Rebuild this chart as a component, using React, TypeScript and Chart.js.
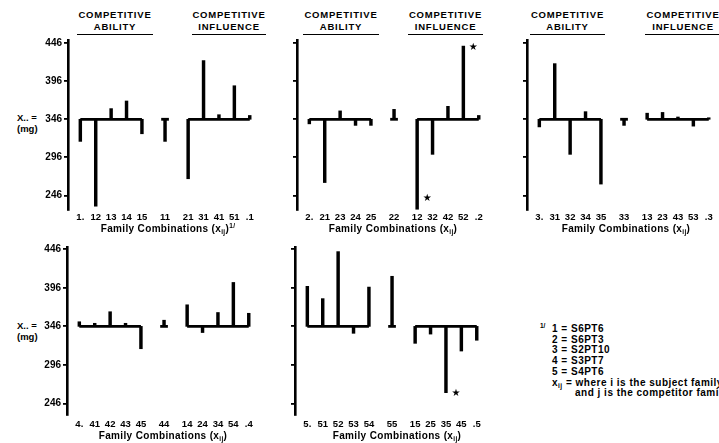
import React, { useEffect, useRef } from "react";
import { Chart, registerables } from "chart.js";

Chart.register(...registerables);

// ---------- data ----------
const yTicks = [246, 296, 346, 396, 446];
const grandMean = 346;

const p1Labels = ["1.", "12", "13", "14", "15", "11", "21", "31", "41", "51", ".1"];
const p1Values = [317, 232, 360, 370, 327, 317, 268, 423, 352, 390, 351];
const p1Stars: string[] = [];

const p2Labels = ["2.", "21", "23", "24", "25", "22", "12", "32", "42", "52", ".2"];
const p2Values = [340, 263, 357, 338, 338, 359, 228, 300, 363, 442, 351];
const p2Stars = ["12", "52"];

const p3Labels = ["3.", "31", "32", "34", "35", "33", "13", "23", "43", "53", ".3"];
const p3Values = [336, 419, 300, 356, 261, 338, 354, 355, 349, 337, 348];
const p3Stars: string[] = [];

const p4Labels = ["4.", "41", "42", "43", "45", "44", "14", "24", "34", "54", ".4"];
const p4Values = [352, 350, 365, 350, 317, 354, 374, 338, 364, 403, 363];
const p4Stars: string[] = [];

const p5Labels = ["5.", "51", "52", "53", "54", "55", "15", "25", "35", "45", ".5"];
const p5Values = [398, 382, 443, 337, 397, 411, 324, 336, 260, 314, 328];
const p5Stars = ["35"];

const footnoteLines = ["1 = S6PT6", "2 = S6PT3", "3 = S2PT10", "4 = S3PT7", "5 = S4PT6"];

// ---------- layout helpers ----------
const FONT = '"Liberation Sans", Arial, Helvetica, sans-serif';
const GAP = 1.5;
// group structure: 5 "ability" items, 1 single, 5 "influence" items
function positionsFor(n: number): number[] {
  const out: number[] = [];
  for (let i = 0; i < n; i++) {
    if (i < 5) out.push(i);
    else if (i === 5) out.push(4 + GAP);
    else out.push(4 + 2 * GAP + (i - 6));
  }
  return out;
}

const Y_AXIS_W = 68;
const AREA_W = 191;
const PAD_TOP = 12;
const X_AXIS_H = 22;

type PanelProps = {
  labels: string[];
  values: number[];
  stars: string[];
  areaLeft: number;
  areaTop: number;
  areaBottom: number;
  yMin: number;
  yMax: number;
  showYLabels: boolean;
  xPad: number;
};

function Panel(p: PanelProps) {
  const ref = useRef<HTMLCanvasElement | null>(null);
  const width = Y_AXIS_W + AREA_W + 4;
  const height = p.areaBottom - p.areaTop + PAD_TOP + X_AXIS_H;

  useEffect(() => {
    if (!ref.current) return;
    const pos = positionsFor(p.labels.length);
    const bars = p.values.map((v, i) => ({ x: pos[i], y: [grandMean, v] }));
    const lineStyle = {
      type: "line" as const,
      borderColor: "#000",
      borderWidth: 2.8,
      pointRadius: 0,
      borderCapStyle: "butt" as const,
    };
    const ability = [
      { x: pos[0], y: grandMean },
      { x: pos[4], y: grandMean },
    ];
    const single = [
      { x: pos[5] - 0.25, y: grandMean },
      { x: pos[5] + 0.25, y: grandMean },
    ];
    const influence = [
      { x: pos[6], y: grandMean },
      { x: pos[10], y: grandMean },
    ];

    const starPlugin = {
      id: "stars",
      afterDatasetsDraw(chart: any) {
        const ctx = chart.ctx;
        ctx.save();
        ctx.fillStyle = "#000";
        ctx.font = `10px "DejaVu Sans", sans-serif`;
        ctx.textAlign = "center";
        ctx.textBaseline = "middle";
        p.stars.forEach((lab) => {
          const i = p.labels.indexOf(lab);
          if (i < 0) return;
          const x = chart.scales.x.getPixelForValue(pos[i]) + 10;
          let y = chart.scales.y.getPixelForValue(p.values[i]);
          y = Math.min(y + 1, chart.chartArea.bottom - 12);
          ctx.fillText("\u2605", x, y);
        });
        ctx.restore();
      },
    };

    const chart = new Chart(ref.current, {
      type: "bar",
      data: {
        datasets: [
          {
            type: "bar",
            data: bars as any,
            backgroundColor: "#000",
            borderWidth: 0,
            barThickness: 2.8,
          } as any,
          { ...lineStyle, data: ability } as any,
          { ...lineStyle, data: single } as any,
          { ...lineStyle, data: influence } as any,
        ],
      },
      options: {
        responsive: false,
        animation: false,
        events: [],
        layout: { autoPadding: false, padding: { top: PAD_TOP, left: 0, right: 4, bottom: 0 } } as any,
        plugins: { legend: { display: false }, tooltip: { enabled: false }, title: { display: false } },
        scales: {
          x: {
            type: "linear",
            min: -0.8,
            max: 11.6,
            offset: false,
            grid: { display: false, drawTicks: false },
            border: { display: false },
            afterFit: (s: any) => {
              s.height = X_AXIS_H;
            },
            afterBuildTicks: (s: any) => {
              s.ticks = pos.map((v) => ({ value: v }));
            },
            ticks: {
              autoSkip: false,
              maxRotation: 0,
              minRotation: 0,
              padding: p.xPad,
              color: "#000",
              font: { family: FONT, size: 9.5, weight: "bold" },
              callback: (_v: any, i: number) => p.labels[i],
            },
          },
          y: {
            type: "linear",
            min: p.yMin,
            max: p.yMax,
            grid: { display: true, drawOnChartArea: false, drawTicks: true, tickLength: 4, color: "#000", lineWidth: 1.8 },
            border: { display: true, color: "#000", width: 2.6 },
            afterFit: (s: any) => {
              s.width = Y_AXIS_W;
            },
            afterBuildTicks: (s: any) => {
              s.ticks = yTicks.map((v) => ({ value: v }));
            },
            ticks: {
              display: p.showYLabels,
              padding: 2,
              color: "#000",
              font: { family: FONT, size: 10, weight: "bold" },
              callback: (v: any) => String(v),
            },
          },
        },
      } as any,
      plugins: [starPlugin],
    });
    return () => chart.destroy();
  }, []);

  return (
    <canvas
      ref={ref}
      width={width}
      height={height}
      style={{
        position: "absolute",
        left: p.areaLeft - Y_AXIS_W,
        top: p.areaTop - PAD_TOP,
        width,
        height,
      }}
    />
  );
}

const textBase: React.CSSProperties = {
  position: "absolute",
  fontFamily: FONT,
  fontWeight: "bold",
  color: "#000",
  whiteSpace: "nowrap",
};

function Header({ left, width, line2 }: { left: number; width: number; line2: string }) {
  return (
    <div
      style={{
        ...textBase,
        left,
        top: 9,
        width,
        textAlign: "center",
        fontSize: 9.5,
        letterSpacing: 0.8,
        lineHeight: "12px",
        borderBottom: "1.6px solid #000",
        paddingBottom: 1,
      }}
    >
      <div>COMPETITIVE</div>
      <div>{line2}</div>
    </div>
  );
}

function XTitle({ center, top, note }: { center: number; top: number; note?: boolean }) {
  return (
    <div
      style={{
        ...textBase,
        left: center - 100,
        width: 200,
        top,
        textAlign: "center",
        fontSize: 10,
        letterSpacing: 0.35,
        lineHeight: "12px",
      }}
    >
      Family Combinations (x<sub style={{ fontSize: 6.5, verticalAlign: "-2px", lineHeight: 0 }}>ij</sub>)
      {note ? <sup style={{ fontSize: 6.5, lineHeight: 0 }}>1/</sup> : null}
    </div>
  );
}

function YTitle({ top }: { top: number }) {
  return (
    <div style={{ ...textBase, left: 17, top, fontSize: 9.5, lineHeight: "10.5px" }}>
      <div>X.. =</div>
      <div>(mg)</div>
    </div>
  );
}

export default function App() {
  return (
    <div
      style={{
        position: "absolute",
        left: 0,
        top: 0,
        width: 719,
        height: 443,
        overflow: "hidden",
        background: "#fff",
      }}
    >
      <Header left={77} width={76} line2="ABILITY" />
      <Header left={192} width={74} line2="INFLUENCE" />
      <Header left={303} width={76} line2="ABILITY" />
      <Header left={408} width={75} line2="INFLUENCE" />
      <Header left={530} width={75} line2="ABILITY" />
      <Header left={645} width={76} line2="INFLUENCE" />

      <YTitle top={113} />
      <YTitle top={321} />

      <Panel labels={p1Labels} values={p1Values} stars={p1Stars} areaLeft={68} areaTop={40} areaBottom={210} yMin={227} yMax={450} showYLabels={true} xPad={2} />
      <Panel labels={p2Labels} values={p2Values} stars={p2Stars} areaLeft={297} areaTop={40} areaBottom={210} yMin={227} yMax={450} showYLabels={false} xPad={2} />
      <Panel labels={p3Labels} values={p3Values} stars={p3Stars} areaLeft={527} areaTop={40} areaBottom={210} yMin={227} yMax={450} showYLabels={false} xPad={2} />
      <Panel labels={p4Labels} values={p4Values} stars={p4Stars} areaLeft={67} areaTop={247} areaBottom={415} yMin={231} yMax={449} showYLabels={true} xPad={4} />
      <Panel labels={p5Labels} values={p5Values} stars={p5Stars} areaLeft={295} areaTop={247} areaBottom={415} yMin={231} yMax={449} showYLabels={false} xPad={4} />

      <XTitle center={168} top={223} note={true} />
      <XTitle center={393} top={223} />
      <XTitle center={626} top={223} />
      <XTitle center={163} top={430} />
      <XTitle center={397} top={430} />

      <div style={{ ...textBase, left: 540, top: 322, fontSize: 6.5 }}>1/</div>
      <div style={{ ...textBase, left: 552, top: 324, fontSize: 10, letterSpacing: 0.5, lineHeight: "10.7px" }}>
        {footnoteLines.map((l) => (
          <div key={l}>{l}</div>
        ))}
        <div>
          x<sub style={{ fontSize: 6.5, verticalAlign: "-2px", lineHeight: 0 }}>ij</sub> = where i is the subject family
        </div>
        <div style={{ paddingLeft: 23 }}>and j is the competitor family</div>
      </div>
    </div>
  );
}
